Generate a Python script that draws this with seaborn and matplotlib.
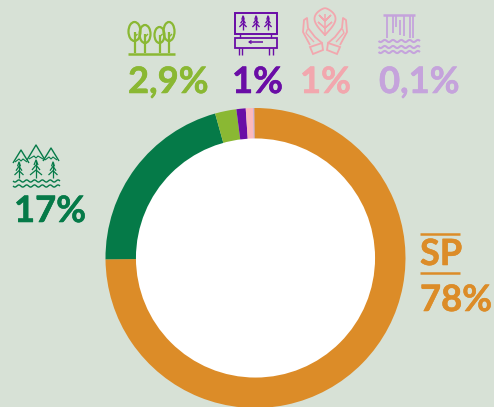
import numpy as np
import matplotlib.pyplot as plt
import matplotlib.patheffects as pe
from matplotlib.patches import Ellipse, Rectangle, Circle, Polygon
import seaborn as sns

# arc shares as drawn in the picture (the printed labels differ from them)
slice_names = ["SP", "forest", "trees", "sign", "hands", "water"]
arc_shares = [75.0, 20.8, 2.3, 1.0, 0.8, 0.1]
slice_colors = ["#DC8C28", "#057A48", "#8AB833", "#6A0DA6", "#FBB9BD", "#C5A3DC"]

label_texts = ["78%", "17%", "2,9%", "1%", "1%", "0,1%"]
label_colors = ["#DC8C28", "#057A48", "#8AB833", "#6A0DA6", "#F2A7AE", "#C5A3DC"]
label_x = [420, 14, 128, 232, 300, 379]
label_y = [311, 222, 93, 93, 93, 93]

bg = "#D7E1D6"
W, H = 494, 407

sns.set_theme(style="white")
plt.rcParams['font.family'] = ['Lato', 'DejaVu Sans']

fig = plt.figure(figsize=(W / 100, H / 100), dpi=100, facecolor=bg)

# donut, centre (255.5, 258) radius 150 in pixels
ax = fig.add_axes([(255.5 - 150) / W, (H - 258 - 150) / H, 300 / W, 300 / H])
ax.pie(arc_shares, colors=slice_colors, startangle=90.5, counterclock=False, radius=1,
       wedgeprops={"width": 0.21, "linewidth": 0})
ax.add_patch(Circle((0, 0), 0.797, color="white", lw=0))
ax.set_xlim(-1, 1)
ax.set_ylim(-1, 1)
ax.axis("off")

# overlay in pixel coordinates for the labels and icons
ov = fig.add_axes([0, 0, 1, 1])
ov.set_xlim(0, W)
ov.set_ylim(H, 0)
ov.axis("off")
ov.patch.set_alpha(0)


def line(xs, ys, c, lw=1.3):
    ov.plot(xs, ys, color=c, lw=lw, solid_capstyle="butt")


def pine(x, top, bottom, c, w=5, lw=1.0, n=3):
    line([x, x], [top, bottom], c, lw)
    step = (bottom - top - 3) / n
    for i in range(n):
        y = top + i * step
        line([x - w * (i + 1) / n, x, x + w * (i + 1) / n], [y + step, y, y + step], c, lw)


def wave(x0, x1, y, c, lw=1.3, n=5):
    xs = np.linspace(x0, x1, n * 8 + 1)
    line(xs, y + 1.1 * np.sin((xs - x0) / (x1 - x0) * n * 2 * np.pi), c, lw)


for t, c, x, y in zip(label_texts, label_colors, label_x, label_y):
    ov.text(x, y, t, color=c, fontsize=26.2, fontweight="bold", ha="left", va="baseline",
            path_effects=[pe.withStroke(linewidth=0.4, foreground=c)])

# SP
c = label_colors[0]
ov.text(420, 265, "SP", color=c, fontsize=26, fontweight="bold", ha="left", va="baseline",
        path_effects=[pe.withStroke(linewidth=0.4, foreground=c)])
line([420, 460], [234, 234], c, 1.8)
line([420, 460], [273, 273], c, 1.8)

# trees icon
c = label_colors[2]
line([128, 175], [53.5, 53.5], c, 1.8)
for x, top, bot, w in [(134.5, 22, 41, 12), (145, 25, 43, 11), (159.5, 27, 43, 10), (169, 22, 41, 11)]:
    ov.add_patch(Ellipse((x, (top + bot) / 2), w, bot - top, fill=False, ec=c, lw=1.6))
    line([x, x], [(top + bot) / 2, 53], c, 1.6)
    line([x, x + 3], [37, 34], c, 1.0)

# billboard icon
c = label_colors[3]
ov.add_patch(Rectangle((235, 13), 42, 21, fill=False, ec=c, lw=1.4))
ov.add_patch(Rectangle((235, 37.5), 42, 10, fill=False, ec=c, lw=1.3))
for x in [243, 256, 268]:
    pine(x, 16, 30, c, w=3.6, lw=1.0)
line([249, 263], [42, 42], c, 1.1)
line([251.5, 249, 251.5], [40.5, 42, 43.5], c, 1.0)
for x in [238.5, 242, 269, 273]:
    line([x, x], [47.5, 55], c, 1.0)
for x in [240, 271]:
    line([x, x], [34, 37.5], c, 1.0)

# leaf and hands icon
c = label_colors[4]
tt = np.linspace(0, 1, 30)
half = 10.5 * np.sin(np.pi * tt ** 0.75)
line(np.r_[325 - half, (325 + half)[::-1]], np.r_[8 + 27 * tt, (8 + 27 * tt)[::-1]], c, 1.3)
line([325, 325], [14, 36], c, 1.1)
for s in [-1, 1]:
    line([325 + s * 6, 325, 325 + s * 6], [15, 21, 15], c, 1.0)
    line([325 + s * 7, 325, 325 + s * 7], [22, 28, 22], c, 1.0)
    # open hand and cuff, mirrored
    line([325 + s * 15, 325 + s * 22, 325 + s * 21, 325 + s * 18, 325 + s * 17, 325 + s * 10, 325 + s * 3],
         [45, 32, 20, 18, 28, 37, 43], c, 1.3)
    line([325 + s * 17.5, 325 + s * 19, 325 + s * 11], [29, 33, 42], c, 1.0)
    cuff = [(325 + s * 15, 47), (325 + s * 3, 43), (325 + s * 2, 50), (325 + s * 12, 54)]
    ov.add_patch(Polygon(cuff, closed=True, fill=False, ec=c, lw=1.3))

# waterfall icon
c = label_colors[5]
line([383, 415], [15, 15], c, 1.8)
for x, y0, y1 in [(387, 15, 38), (393, 15, 33), (396, 15, 27), (400, 20, 35), (404, 15, 36), (410, 15, 38), (413, 15, 38)]:
    line([x, x], [y0, y1], c, 1.3)
for y in [41, 47, 52]:
    wave(378.5, 420, y, c, 1.5)

# forest icon
c = label_colors[1]
for x, y, w, h in [(21, 150, 8, 13), (36, 145, 9, 15), (51, 148, 8, 13)]:
    line([x - w, x, x + w], [y + h, y, y + h], c, 1.0)
    line([x - w + 2, x - 2, x, x + 2, x + w - 2], [y + h - 1, y + h - 4, y + h - 2, y + h - 4, y + h - 1], c, 0.8)
for x, top, bot, w in [(19, 162, 178, 4.5), (36, 160, 178, 6), (53, 162, 178, 4.5)]:
    pine(x, top, bot, c, w=w, lw=0.9)
for y in [181, 186]:
    wave(13, 60, y, c, 1.0, n=6)

fig.savefig("out.png", dpi=100, facecolor=bg)
